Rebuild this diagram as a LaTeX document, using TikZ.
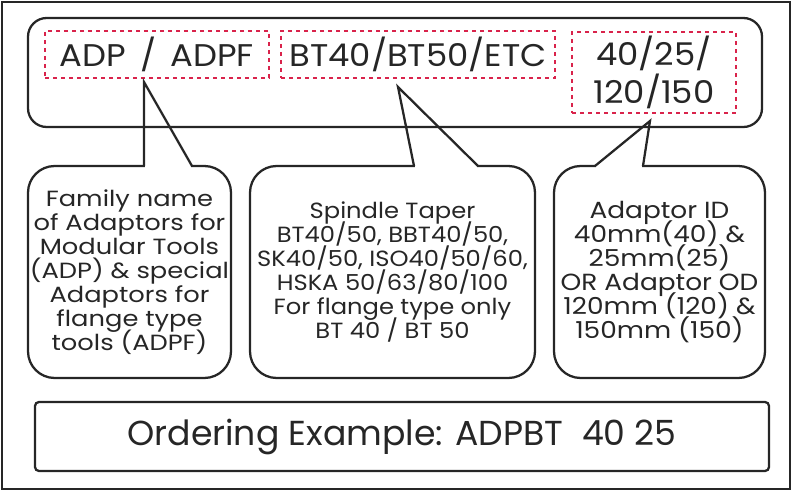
\documentclass[tikz,border=0pt]{standalone}
\usepackage{fontspec}
\setmainfont{Poppins}
\newfontfamily\tagfont[FakeStretch=1.08]{Poppins}
\newfontfamily\famfont[FakeStretch=1.17]{Poppins}
\newfontfamily\taperfont[FakeStretch=1.1]{Poppins}
\newfontfamily\odfont[FakeStretch=1.13]{Poppins}
\lineskiplimit=-100pt
\usetikzlibrary{calc}

\definecolor{ink}{HTML}{262626}
\definecolor{tagred}{HTML}{D9234B}

\begin{document}
\begin{tikzpicture}[x=0.75pt,y=-0.75pt,
    box/.style={draw=ink, line width=1.7pt, inner sep=0pt, text=ink},
    tag/.style={draw=tagred, line width=1.3pt, dash pattern=on 3pt off 3pt,
      inner sep=0pt, text=ink, align=center, font=\tagfont\fontsize{23.5}{28}\selectfont},
    note/.style={box, rounded corners=20pt, align=center,
      minimum width=#1, minimum height=159pt},
    lead/.style={draw=ink, line width=1.7pt}]

  \useasboundingbox (0,0) rectangle (793,491);
  \node[box, line width=1.5pt, minimum width=591pt, minimum height=365.25pt] (frame) at (396,245.5) {};

  \node[box, rounded corners=14pt, minimum width=550.5pt, minimum height=81.75pt] (code) at (395,72.5) {};
  \node[tag, minimum width=168pt, minimum height=35.25pt] (family) at (157,54.5) {ADP\hspace{0.45em}/\hspace{0.45em}ADPF};
  \node[tag, minimum width=205.5pt, minimum height=35.25pt] (taper) at (418,54.5) {BT40/BT50/ETC};
  \node[tag, minimum width=123pt, minimum height=60.75pt] (size) at (654,72.5) {40/25/\\120/150};

  \node[note=152.25pt, font=\famfont\fontsize{16.5}{18}\selectfont] (familynote) at (129.5,272) {Family name\\of Adaptors for\\Modular Tools\\(ADP) \& special\\Adaptors for\\flange type\\tools (ADPF)};
  \node[note=213.75pt, font=\taperfont\fontsize{16.5}{18}\selectfont] (tapernote) at (392.5,272) {Spindle Taper\\BT40/50, BBT40/50,\\SK40/50, ISO40/50/60,\\HSKA 50/63/80/100\\For flange type only\\BT 40 / BT 50};
  \node[note=158.25pt, font=\odfont\fontsize{17.5}{18}\selectfont] (sizenote) at (659.5,272) {Adaptor ID\\40mm(40) \&\\25mm(25)\\OR Adaptor OD\\120mm (120) \&\\150mm (150)};

  \node[box, rounded corners=3pt, minimum width=550.5pt, minimum height=51.75pt,
    font=\fontsize{26}{28}\selectfont] (example) at (402,436.5) {Ordering Example: ADPBT\ \ 40 25};

  \coordinate (tip1) at (144,82);
  \coordinate (tip1a) at (144,166);
  \coordinate (tip1b) at (192,166);
  \coordinate (tip2) at (398,87);
  \coordinate (tip2a) at (414,166);
  \coordinate (tip2b) at (478,166);
  \coordinate (tip3) at (650,121);
  \coordinate (tip3a) at (595,166);
  \coordinate (tip3b) at (643,166);

  \fill[white] ($(tip1a)+(1.2,-2)$) rectangle ($(tip1b)+(-1.2,2)$);
  \fill[white] ($(tip2a)+(1.2,-2)$) rectangle ($(tip2b)+(-1.2,2)$);
  \fill[white] ($(tip3a)+(1.2,-2)$) rectangle ($(tip3b)+(-1.2,2)$);
  \draw[lead] (tip1a) -- (tip1) -- (tip1b);
  \draw[lead] (tip2a) -- (tip2) -- (tip2b);
  \draw[lead] (tip3a) -- (tip3) -- (tip3b);
\end{tikzpicture}
\end{document}
